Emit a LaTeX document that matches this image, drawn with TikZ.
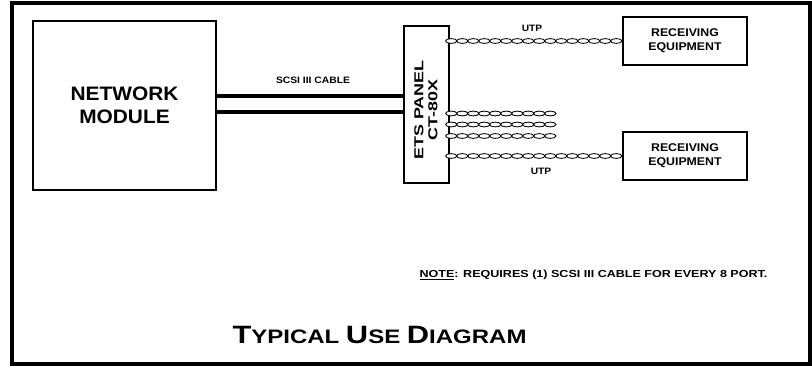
\documentclass[tikz,border=0pt]{standalone}
\usepackage{fontspec}
\setmainfont{Liberation Sans}
\usepackage{graphicx}
\usetikzlibrary{decorations.markings}
\newcommand\sxs[2]{\scalebox{#1}[1]{#2}}
\begin{document}
\begin{tikzpicture}[x=1pt,y=-1pt,
  box/.style={draw, line width=1.6pt, inner sep=0pt},
  lbl/.style={inner sep=0pt, align=center},
  scsi/.style={line width=4pt},
  twist/.style={
    postaction={decorate, decoration={markings,
      mark=between positions 5.5pt and 1 step 11pt with
        {\draw[line width=0.85pt, fill=white] (0,0) ellipse (5.7pt and 2.4pt);}}}},
  frame/.style={line width=4pt}]
\useasboundingbox (0,0) rectangle (812,366);
\draw[frame] (12,3) rectangle (810,364);

% Network module
\node[box, minimum width=183pt, minimum height=169pt,
      font=\fontsize{19.5}{23}\selectfont\bfseries, align=center] (nm) at (124.5,105.5)
  {\sxs{1.07}{NETWORK}\\\sxs{1.07}{MODULE}};

% ETS panel
\node[box, minimum width=45pt, minimum height=157pt] (panel) at (426.5,104.5) {};
\node[lbl, rotate=90, font=\fontsize{13}{14}\selectfont\bfseries] (paneltxt) at (426,110)
  {\sxs{1.38}{ETS PANEL}\\\sxs{1.38}{CT-80X}};

% Receiving equipment
\node[box, minimum width=124pt, minimum height=48pt,
      font=\fontsize{11.2}{14.3}\selectfont\bfseries, align=center] (rx1) at (685,41)
  {\sxs{1.1}{RECEIVING}\\\sxs{1.1}{EQUIPMENT}};
\node[box, minimum width=124pt, minimum height=48pt,
      font=\fontsize{11.2}{14.3}\selectfont\bfseries, align=center] (rx2) at (685,156)
  {\sxs{1.1}{RECEIVING}\\\sxs{1.1}{EQUIPMENT}};

% SCSI cables
\draw[scsi] (nm.east |- 0,96) -- (panel.west |- 0,96);
\draw[scsi] (nm.east |- 0,112) -- (panel.west |- 0,112);
\node[lbl, font=\fontsize{9.3}{11}\selectfont\bfseries] (scsilbl) at (313,80) {\sxs{1.11}{SCSI III CABLE}};

% UTP cables
\path[twist] ([xshift=-4pt]panel.east |- rx1.west) -- (rx1.west);
\path[twist] ([xshift=-4pt]panel.east |- rx2.west) -- (rx2.west);
\coordinate (s1) at (556,113.5);
\coordinate (s2) at (556,124.5);
\coordinate (s3) at (556,136);
\path[twist] ([xshift=-4pt]panel.east |- s1) -- (s1);
\path[twist] ([xshift=-4pt]panel.east |- s2) -- (s2);
\path[twist] ([xshift=-4pt]panel.east |- s3) -- (s3);
\node[lbl, font=\fontsize{9.3}{11}\selectfont\bfseries] (utp1) at (532,28) {\sxs{1.1}{UTP}};
\node[lbl, font=\fontsize{9.3}{11}\selectfont\bfseries] (utp2) at (541,171) {\sxs{1.1}{UTP}};

% Note
\node[lbl, anchor=base, font=\fontsize{10.2}{12}\selectfont\bfseries] (note) at (593.5,277.7)
  {\sxs{1.23}{\underline{NOTE}: REQUIRES (1) SCSI III CABLE FOR EVERY 8 PORT.}};

% Title
\node[lbl, anchor=base, font=\bfseries] (title) at (379.5,344)
  {\sxs{1.23}{\fontsize{25.1}{30}\selectfont T\fontsize{19.5}{30}\selectfont YPICAL
   \fontsize{25.1}{30}\selectfont U\fontsize{19.5}{30}\selectfont SE
   \fontsize{25.1}{30}\selectfont D\fontsize{19.5}{30}\selectfont IAGRAM}};
\end{tikzpicture}
\end{document}
